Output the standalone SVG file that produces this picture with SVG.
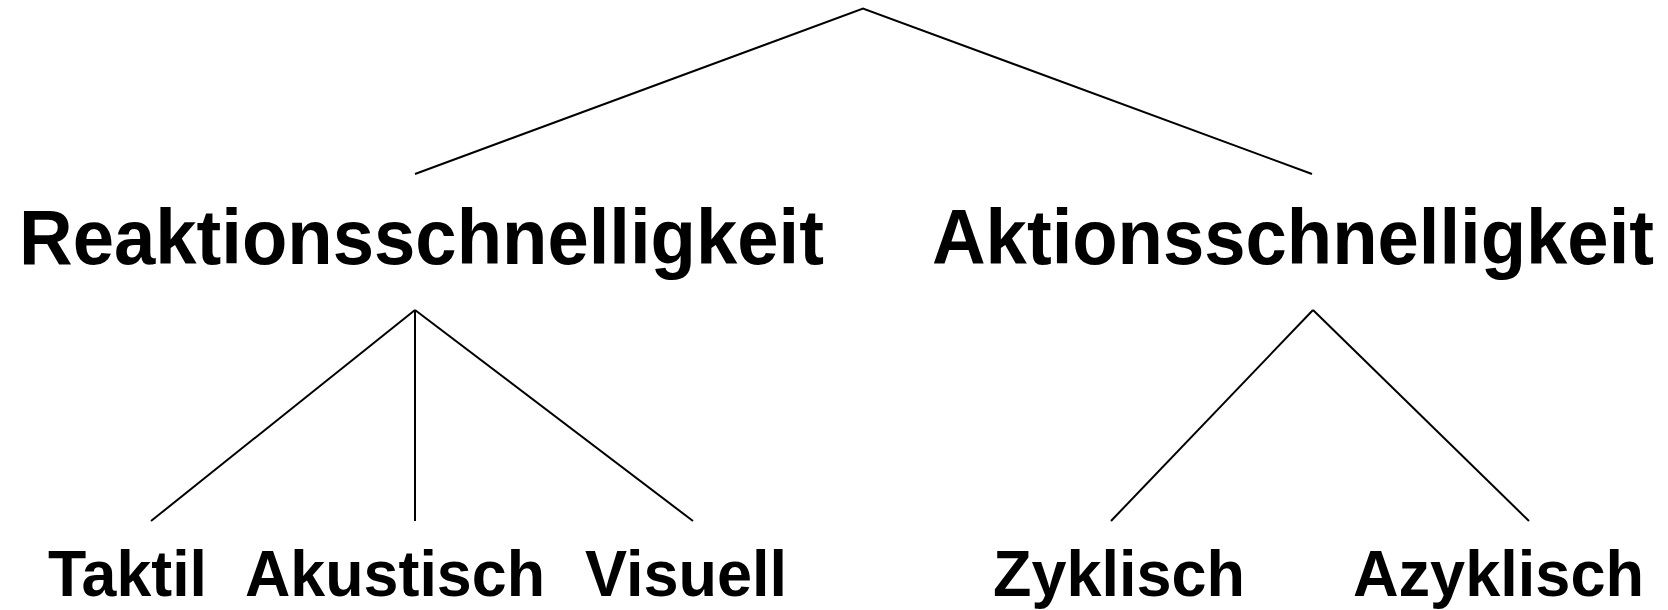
<svg xmlns="http://www.w3.org/2000/svg" width="1668" height="610" viewBox="0 0 1668 610">
<style>
.l{stroke:#000;stroke-width:2;fill:none;stroke-linecap:butt}
.big{font-family:"Liberation Sans",Arial,sans-serif;font-weight:bold;font-size:78px;fill:#000}
.sm{font-family:"Liberation Sans",Arial,sans-serif;font-weight:bold;font-size:65px;fill:#000}
</style>
<rect width="1668" height="610" fill="#fff"/>
<g id="connectors">
<polyline class="l" points="415,174 863,8.5 1312,174"/>
<line class="l" x1="415" y1="310" x2="151" y2="521"/>
<line class="l" x1="415" y1="310" x2="415" y2="521"/>
<line class="l" x1="415" y1="310" x2="693" y2="521"/>
<line class="l" x1="1313" y1="310" x2="1111" y2="521"/>
<line class="l" x1="1313" y1="310" x2="1529" y2="521"/>
</g>
<g id="reaktion"><text class="big" x="19" y="264" textLength="805" lengthAdjust="spacingAndGlyphs">Reaktionsschnelligkeit</text></g>
<g id="aktion"><text class="big" x="932" y="264" textLength="722" lengthAdjust="spacingAndGlyphs">Aktionsschnelligkeit</text></g>
<g id="taktil"><text class="sm" x="48" y="596" textLength="159" lengthAdjust="spacingAndGlyphs">Taktil</text></g>
<g id="akustisch"><text class="sm" x="245" y="596" textLength="300" lengthAdjust="spacingAndGlyphs">Akustisch</text></g>
<g id="visuell"><text class="sm" x="585" y="596" textLength="202" lengthAdjust="spacingAndGlyphs">Visuell</text></g>
<g id="zyklisch"><text class="sm" x="993" y="596" textLength="252" lengthAdjust="spacingAndGlyphs">Zyklisch</text></g>
<g id="azyklisch"><text class="sm" x="1353" y="596" textLength="291" lengthAdjust="spacingAndGlyphs">Azyklisch</text></g>
</svg>
